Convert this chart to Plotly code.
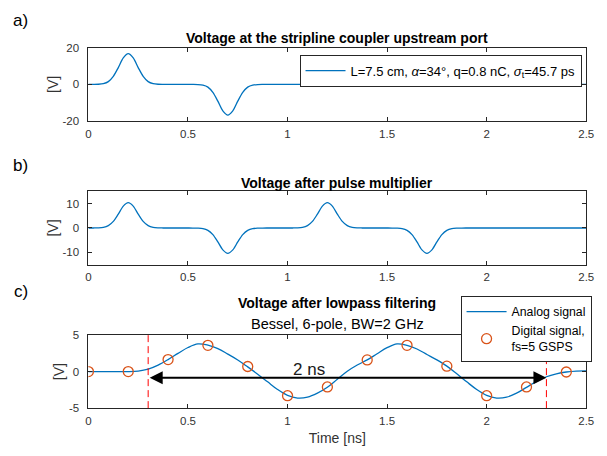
import plotly.graph_objects as go

W, H = 607, 456
FONT = "Liberation Sans, Arial, Helvetica, sans-serif"
AX = "#262626"
BLUE = "#0072BD"
ORANGE = "#D95319"

# ---------------- data ----------------
x_ticks = [0, 0.5, 1, 1.5, 2, 2.5]
x_ticktext = ["0", "0.5", "1", "1.5", "2", "2.5"]
ya_ticks, ya_text = [-20, 0, 20], ["-20", "0", "20"]
yb_ticks, yb_text = [-10, 0, 10], ["-10", "0", "10"]
yc_ticks, yc_text = [-5, 0, 5], ["-5", "0", "5"]

# a) voltage at stripline coupler upstream port [V]
t_a = [0.0, 0.025, 0.05, 0.075, 0.1, 0.125, 0.15, 0.175, 0.2, 0.225, 0.25, 0.275,
       0.3, 0.325, 0.35, 0.375, 0.4, 0.425, 0.45, 0.475, 0.5, 0.525, 0.55, 0.575,
       0.6, 0.625, 0.65, 0.675, 0.7, 0.725, 0.75, 0.775, 0.8, 0.825, 0.85, 0.875,
       0.9, 1.0, 1.5, 2.0, 2.5]
v_a = [0.0, 0.01, 0.08, 0.4, 1.5, 4.4, 9.2, 14.5, 16.8, 14.5, 9.2, 4.4,
       1.5, 0.4, 0.08, 0.01, 0.0, 0.0, 0.0, 0.0, 0.0, -0.01, -0.08, -0.4,
       -1.5, -4.4, -9.2, -14.5, -16.8, -14.5, -9.2, -4.4, -1.5, -0.4, -0.08, -0.01,
       0.0, 0.0, 0.0, 0.0, 0.0]

# b) voltage after pulse multiplier [V]
t_b = [0.0, 0.025, 0.05, 0.075, 0.1, 0.125, 0.15, 0.175, 0.2, 0.225, 0.25, 0.275, 0.3, 0.325, 0.35, 0.375, 0.4,
       0.5, 0.525, 0.55, 0.575, 0.6, 0.625, 0.65, 0.675, 0.7, 0.725, 0.75, 0.775, 0.8, 0.825, 0.85, 0.875, 0.9,
       1.0, 1.025, 1.05, 1.075, 1.1, 1.125, 1.15, 1.175, 1.2, 1.225, 1.25, 1.275, 1.3, 1.325, 1.35, 1.375, 1.4,
       1.5, 1.525, 1.55, 1.575, 1.6, 1.625, 1.65, 1.675, 1.7, 1.725, 1.75, 1.775, 1.8, 1.825, 1.85, 1.875, 1.9,
       2.0, 2.5]
v_b = [0.0, 0.01, 0.05, 0.25, 0.95, 2.7, 5.7, 9.0, 10.4, 9.0, 5.7, 2.7, 0.95, 0.25, 0.05, 0.01, 0.0,
       0.0, -0.01, -0.05, -0.25, -0.95, -2.7, -5.7, -9.0, -10.4, -9.0, -5.7, -2.7, -0.95, -0.25, -0.05, -0.01, 0.0,
       0.0, 0.01, 0.05, 0.25, 0.95, 2.7, 5.7, 9.0, 10.4, 9.0, 5.7, 2.7, 0.95, 0.25, 0.05, 0.01, 0.0,
       0.0, -0.01, -0.05, -0.25, -0.95, -2.7, -5.7, -9.0, -10.4, -9.0, -5.7, -2.7, -0.95, -0.25, -0.05, -0.01, 0.0,
       0.0, 0.0]

# c) voltage after lowpass filtering [V]
t_c = [0.0, 0.05, 0.1, 0.15, 0.2, 0.25, 0.3, 0.35, 0.4, 0.45, 0.5, 0.55, 0.6, 0.65, 0.7, 0.75,
       0.8, 0.85, 0.9, 0.95, 1.0, 1.05, 1.1, 1.15, 1.2, 1.25, 1.3, 1.35, 1.4, 1.45, 1.5, 1.55,
       1.6, 1.65, 1.7, 1.75, 1.8, 1.85, 1.9, 1.95, 2.0, 2.05, 2.1, 2.15, 2.2, 2.25, 2.3, 2.35,
       2.4, 2.45, 2.5]
v_c = [0.0, 0.0, 0.0, 0.0, 0.0, 0.08, 0.35, 0.9, 1.65, 2.5, 3.3, 3.8, 3.62, 3.15, 2.4, 1.6,
       0.65, -0.35, -1.4, -2.45, -3.25, -3.62, -3.5, -2.95, -2.15, -1.05, 0.05, 0.9, 1.6, 2.45, 3.28, 3.8,
       3.6, 3.1, 2.35, 1.6, 0.75, -0.3, -1.4, -2.45, -3.25, -3.62, -3.5, -2.95, -2.15, -1.35, -0.7, -0.3,
       -0.05, 0.08, 0.1]

t_s = [0.0, 0.2, 0.4, 0.6, 0.8, 1.0, 1.2, 1.4, 1.6, 1.8, 2.0, 2.2, 2.4]
v_s = [0.0, 0.0, 1.65, 3.6, 0.7, -3.3, -2.1, 1.6, 3.6, 0.75, -3.3, -2.1, -0.05]

marker_t = [0.3, 2.3]          # dashed markers
arrow_y = -0.85                 # level of the 2 ns arrow

# ---------------- figure ----------------
fig = go.Figure()

fig.add_trace(go.Scatter(
    x=t_a, y=v_a, mode="lines", xaxis="x", yaxis="y",
    line=dict(color=BLUE, width=1.3, shape="spline", smoothing=0.8),
    name="L=7.5 cm, <i>α</i>=34°, q=0.8 nC, <i>σ</i><sub>t</sub>=45.7 ps",
    legend="legend"))

fig.add_trace(go.Scatter(
    x=t_b, y=v_b, mode="lines", xaxis="x2", yaxis="y2",
    line=dict(color=BLUE, width=1.3, shape="spline", smoothing=0.8),
    showlegend=False))

fig.add_trace(go.Scatter(
    x=t_c, y=v_c, mode="lines", xaxis="x3", yaxis="y3",
    line=dict(color=BLUE, width=1.3, shape="spline", smoothing=1.0),
    name="Analog signal", legend="legend2"))

fig.add_trace(go.Scatter(
    x=t_s, y=v_s, mode="markers", xaxis="x3", yaxis="y3",
    marker=dict(symbol="circle-open", size=10, color=ORANGE, line=dict(width=1.3, color=ORANGE)),
    name="Digital signal,<br>fs=5 GSPS", legend="legend2"))


def ydom(top, bot):
    return [1 - bot / H, 1 - top / H]


xdom = [87 / W, 594 / W]
common = dict(showline=True, linecolor=AX, linewidth=1, mirror="allticks",
              ticks="inside", ticklen=4, tickcolor=AX, tickwidth=1,
              showgrid=False, zeroline=False,
              tickfont=dict(family=FONT, size=11.5, color="#333333"))
ytitle = dict(text="[V]", standoff=0, font=dict(family=FONT, size=14, color="#333333"))

layout = dict(
    width=W, height=H, margin=dict(l=0, r=0, t=0, b=0),
    paper_bgcolor="white", plot_bgcolor="white",
    font=dict(family=FONT, color="#000000"),
    xaxis=dict(domain=xdom, anchor="y", range=[0, 2.5], tickvals=x_ticks, ticktext=x_ticktext,
               ticklabelstandoff=2, **common),
    yaxis=dict(domain=ydom(43, 118), anchor="x", range=[-20, 20], tickvals=ya_ticks, ticktext=ya_text,
               ticklabelstandoff=6, title=ytitle, **common),
    xaxis2=dict(domain=xdom, anchor="y2", range=[0, 2.5], tickvals=x_ticks, ticktext=x_ticktext,
                ticklabelstandoff=2, **common),
    yaxis2=dict(domain=ydom(190.5, 265.5), anchor="x2", range=[-15, 15], tickvals=yb_ticks, ticktext=yb_text,
                ticklabelstandoff=6, title=ytitle, **common),
    xaxis3=dict(domain=xdom, anchor="y3", range=[0, 2.5], tickvals=x_ticks, ticktext=x_ticktext,
                ticklabelstandoff=2,
                title=dict(text="Time [ns]", standoff=7, font=dict(family=FONT, size=14, color="#333333")),
                **common),
    yaxis3=dict(domain=ydom(338, 413), anchor="x3", range=[-5, 5], tickvals=yc_ticks, ticktext=yc_text,
                ticklabelstandoff=6, title=ytitle, **common),
    legend=dict(x=302 / W, y=1 - 50 / H, xanchor="left", yanchor="top",
                bgcolor="white", bordercolor=AX, borderwidth=1,
                font=dict(family=FONT, size=13, color="#000000"),
                itemwidth=40, tracegroupgap=0),
    legend2=dict(x=466 / W, y=1 - 298 / H, xanchor="left", yanchor="top",
                 bgcolor="white", bordercolor=AX, borderwidth=1,
                 font=dict(family=FONT, size=12.3, color="#000000"),
                 itemwidth=40, tracegroupgap=0),
)
fig.update_layout(**layout)

shapes = []
for xm in marker_t:
    shapes.append(dict(type="line", xref="x3", yref="y3", x0=xm, x1=xm, y0=-5, y1=5,
                       line=dict(color="#FF0000", width=1, dash="7px,4px")))
fig.update_layout(shapes=shapes)

xc = (87 + 594) / 2 / W
ann = []
titles = [("Voltage at the stripline coupler upstream port", 33),
          ("Voltage after pulse multiplier", 182),
          ("Voltage after lowpass filtering", 305)]
for txt, yp in titles:
    ann.append(dict(text="<b>" + txt + "</b>", x=xc, y=1 - yp / H, xref="paper", yref="paper",
                    showarrow=False, xanchor="center", yanchor="middle",
                    font=dict(family=FONT, size=14, color="#000000")))
ann.append(dict(text="Bessel, 6-pole, BW=2 GHz", x=xc, y=1 - 327 / H, xref="paper", yref="paper",
                showarrow=False, xanchor="center", yanchor="middle",
                font=dict(family=FONT, size=14.5, color="#000000")))
for lab, yp in [("a)", 15), ("b)", 164), ("c)", 293)]:
    ann.append(dict(text=lab, x=18 / W, y=1 - yp / H, xref="paper", yref="paper",
                    showarrow=False, xanchor="center", yanchor="middle",
                    font=dict(family=FONT, size=17, color="#000000")))
# 2 ns arrow
ann.append(dict(x=marker_t[1], y=arrow_y, ax=marker_t[0], ay=arrow_y,
                xref="x3", yref="y3", axref="x3", ayref="y3",
                text="", showarrow=True, arrowhead=2, arrowsize=1.3, arrowwidth=2,
                arrowside="end+start", arrowcolor="black"))
ann.append(dict(text="2 ns", x=1.11, y=0.35, xref="x3", yref="y3", showarrow=False,
                xanchor="center", yanchor="middle",
                font=dict(family=FONT, size=17, color="#1a1a1a")))
fig.update_layout(annotations=ann)

fig.write_html("out.html", config={"displayModeBar": False},
               post_script="document.body.style.margin='0px';document.body.style.overflow='hidden';")
